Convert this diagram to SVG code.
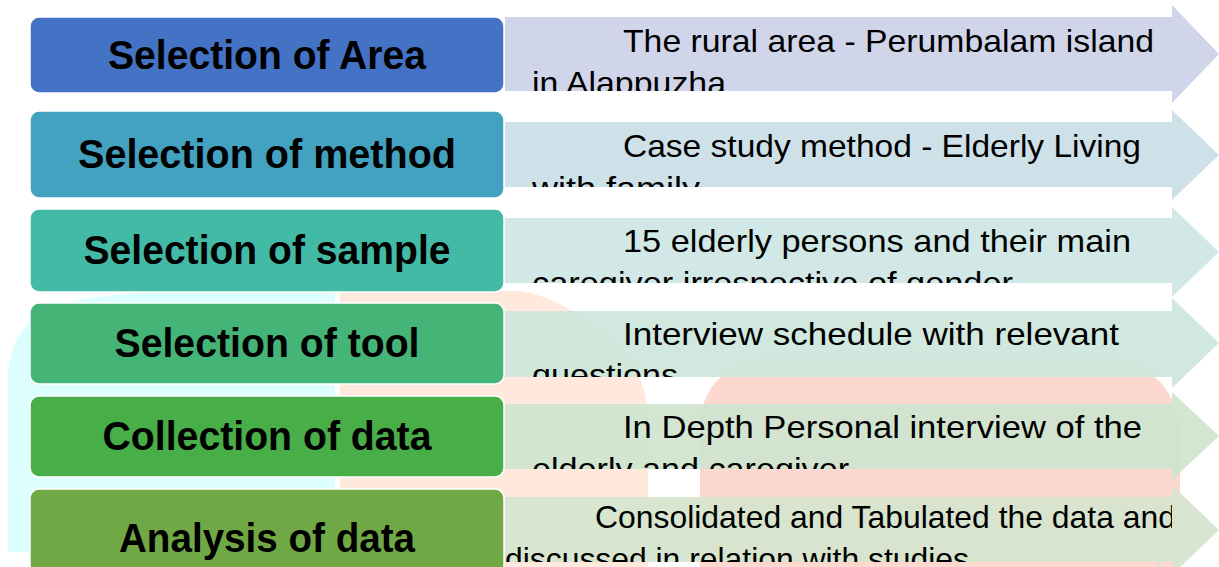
<svg xmlns="http://www.w3.org/2000/svg" width="1219" height="567" viewBox="0 0 1219 567">
<style>
.box{stroke:#ffffff;stroke-width:1.5}
.lbl{font-family:"Liberation Sans",Arial,sans-serif;font-weight:bold;font-size:40px;fill:#000000;text-anchor:middle}
.arr{stroke:none;fill-opacity:0.93}
.txt{font-family:"Liberation Sans",Arial,sans-serif;font-size:32px;fill:#000000}
</style>
<defs>
<clipPath id="c1"><rect x="505" y="17" width="667" height="74"/></clipPath>
<clipPath id="c2"><rect x="505" y="122" width="667" height="65"/></clipPath>
<clipPath id="c3"><rect x="505" y="218" width="667" height="65"/></clipPath>
<clipPath id="c4"><rect x="505" y="311" width="667" height="66"/></clipPath>
<clipPath id="c5"><rect x="505" y="404" width="667" height="65"/></clipPath>
<clipPath id="c6"><rect x="505" y="497" width="667" height="65"/></clipPath>
</defs>
<rect x="0" y="0" width="1219" height="567" fill="#ffffff"/>
<g id="watermark">
<path d="M8,552 L8,380 Q8,318 70,302 Q130,289 250,289 L335,289 L335,552 Z" fill="#DCFEFE"/>
<path d="M340,291 L520,291 Q565,298 600,335 Q648,365 648,420 L648,567 L340,567 Z" fill="#FFE9DC"/>
<path d="M700,567 L700,425 Q703,362 780,358 L1100,358 Q1180,365 1180,440 L1180,567 Z" fill="#FDD8CF"/>
<path d="M1157,567 L1163,547" stroke="#DCDCDC" stroke-width="3" fill="none"/>
</g>
<g id="connectors"></g>
<g id="row1">
<rect class="box" x="30" y="17" width="474" height="76" rx="9" fill="#4472C4"/>
<text class="lbl" x="267" y="69" textLength="318" lengthAdjust="spacingAndGlyphs">Selection of Area</text>
</g>
<g id="arrow1">
<polygon class="arr" points="505,17 1172,17 1172,5 1219,54 1172,103 1172,91 505,91" fill="#CDD2E8"/>
<g clip-path="url(#c1)">
<text class="txt" x="623" y="52" textLength="531" lengthAdjust="spacingAndGlyphs">The rural area - Perumbalam island</text>
<text class="txt" x="532" y="94" textLength="194" lengthAdjust="spacingAndGlyphs">in Alappuzha</text>
</g>
</g>
<g id="row2">
<rect class="box" x="30" y="111" width="474" height="87" rx="9" fill="#43A2BF"/>
<text class="lbl" x="267" y="168" textLength="378" lengthAdjust="spacingAndGlyphs">Selection of method</text>
</g>
<g id="arrow2">
<polygon class="arr" points="505,122 1172,122 1172,110 1219,155 1172,200 1172,187 505,187" fill="#CBDFE6"/>
<g clip-path="url(#c2)">
<text class="txt" x="623" y="157" textLength="518" lengthAdjust="spacingAndGlyphs">Case study method - Elderly Living</text>
<text class="txt" x="532" y="199" textLength="168" lengthAdjust="spacingAndGlyphs">with family</text>
</g>
</g>
<g id="row3">
<rect class="box" x="30" y="209" width="474" height="83" rx="9" fill="#43BAA6"/>
<text class="lbl" x="267" y="264" textLength="367" lengthAdjust="spacingAndGlyphs">Selection of sample</text>
</g>
<g id="arrow3">
<polygon class="arr" points="505,218 1172,218 1172,207 1219,252 1172,297 1172,283 505,283" fill="#CDE6E4"/>
<g clip-path="url(#c3)">
<text class="txt" x="623" y="252" textLength="508" lengthAdjust="spacingAndGlyphs">15 elderly persons and their main</text>
<text class="txt" x="532" y="294" textLength="481" lengthAdjust="spacingAndGlyphs">caregiver irrespective of gender</text>
</g>
</g>
<g id="row4">
<rect class="box" x="30" y="303" width="474" height="81" rx="9" fill="#45B577"/>
<text class="lbl" x="267" y="357" textLength="305" lengthAdjust="spacingAndGlyphs">Selection of tool</text>
</g>
<g id="arrow4">
<polygon class="arr" points="505,311 1172,311 1172,298 1219,343 1172,388 1172,377 505,377" fill="#CDE6DB"/>
<g clip-path="url(#c4)">
<text class="txt" x="623" y="345" textLength="496" lengthAdjust="spacingAndGlyphs">Interview schedule with relevant</text>
<text class="txt" x="532" y="386" textLength="146" lengthAdjust="spacingAndGlyphs">questions</text>
</g>
</g>
<g id="row5">
<rect class="box" x="30" y="396" width="474" height="81" rx="9" fill="#48AE48"/>
<text class="lbl" x="267" y="450" textLength="329" lengthAdjust="spacingAndGlyphs">Collection of data</text>
</g>
<g id="arrow5">
<polygon class="arr" points="505,404 1172,404 1172,392 1219,436 1172,480 1172,469 505,469" fill="#CFE4CF"/>
<g clip-path="url(#c5)">
<text class="txt" x="623" y="438" textLength="519" lengthAdjust="spacingAndGlyphs">In Depth Personal interview of the</text>
<text class="txt" x="532" y="480" textLength="317" lengthAdjust="spacingAndGlyphs">elderly and caregiver</text>
</g>
</g>
<g id="row6">
<rect class="box" x="30" y="489" width="474" height="100" rx="9" fill="#70A845"/>
<text class="lbl" x="267" y="552" textLength="296" lengthAdjust="spacingAndGlyphs">Analysis of data</text>
</g>
<g id="arrow6">
<polygon class="arr" points="505,497 1172,497 1172,485 1219,530 1172,575 1172,562 505,562" fill="#D5E4CD"/>
<g clip-path="url(#c6)">
<text class="txt" x="595" y="528" textLength="581" lengthAdjust="spacingAndGlyphs">Consolidated and Tabulated the data and</text>
<text class="txt" x="505" y="570" textLength="464" lengthAdjust="spacingAndGlyphs">discussed in relation with studies</text>
</g>
</g>
</svg>
